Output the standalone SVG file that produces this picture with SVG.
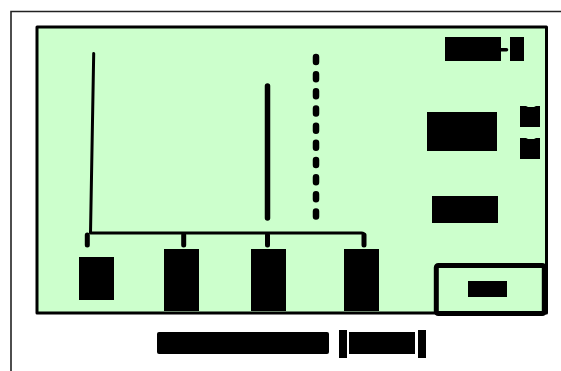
<svg xmlns="http://www.w3.org/2000/svg" width="561" height="371" viewBox="0 0 561 371">
  <style>
    .ink { fill: #000; }
    .line { fill: none; stroke: #000; stroke-linecap: round; stroke-linejoin: round; }
  </style>
  <rect width="561" height="371" fill="#fff"/>
  <path d="M11 371V11.500H561" fill="none" stroke="#222" stroke-width="1.600"/>
  <g id="panel">
    <rect x="37" y="27" width="509.500" height="286" fill="#ccffcc" stroke="#000" stroke-width="3" stroke-linejoin="round"/>
  </g>
  <g id="connectors">
    <path class="line" stroke-width="3" d="M93.700 53.500L90.500 233H361.500Q364 233 364 235.500"/>
    <path class="line" stroke-width="5" d="M87.300 235V245M183.700 235V245M267.500 235V245M364 235V245"/>
    <path class="line" stroke-width="5.500" d="M267.500 86V218"/>
    <path class="line" stroke-width="6.500" stroke-dasharray="5 12.170" d="M316 57V218"/>
    <path class="line" stroke-width="3.500" d="M501 49.800H506.500"/>
  </g>
  <g id="node-a"><rect class="ink" x="79" y="257" width="35" height="43"/></g>
  <g id="node-b"><rect class="ink" x="164" y="249" width="35" height="62"/></g>
  <g id="node-c"><rect class="ink" x="251" y="249" width="35" height="62"/></g>
  <g id="node-d"><rect class="ink" x="344" y="249" width="35" height="62"/></g>
  <g id="label-top"><rect class="ink" x="445" y="37" width="56" height="24"/><rect class="ink" x="510" y="37" width="14" height="24"/></g>
  <g id="label-mid"><rect class="ink" x="427" y="112" width="70" height="39"/></g>
  <g id="mark-1"><path class="ink" d="M520 106H526L528 107H534L536 106H540V127H520Z"/></g>
  <g id="mark-2"><path class="ink" d="M520 138H526L528 139H534L536 138H540V159H520Z"/></g>
  <g id="label-low"><rect class="ink" x="432" y="196" width="66" height="27"/></g>
  <g id="legend">
    <rect x="436.300" y="265.500" width="108" height="48" rx="2" fill="none" stroke="#000" stroke-width="5"/>
    <rect class="ink" x="468" y="281" width="39" height="16"/>
  </g>
  <g id="title">
    <rect class="ink" x="157" y="332" width="172" height="22" rx="2"/>
    <rect class="ink" x="339" y="330" width="8" height="28"/>
    <rect class="ink" x="349" y="332" width="66" height="22"/>
    <rect class="ink" x="418" y="330" width="8" height="28"/>
  </g>
</svg>
